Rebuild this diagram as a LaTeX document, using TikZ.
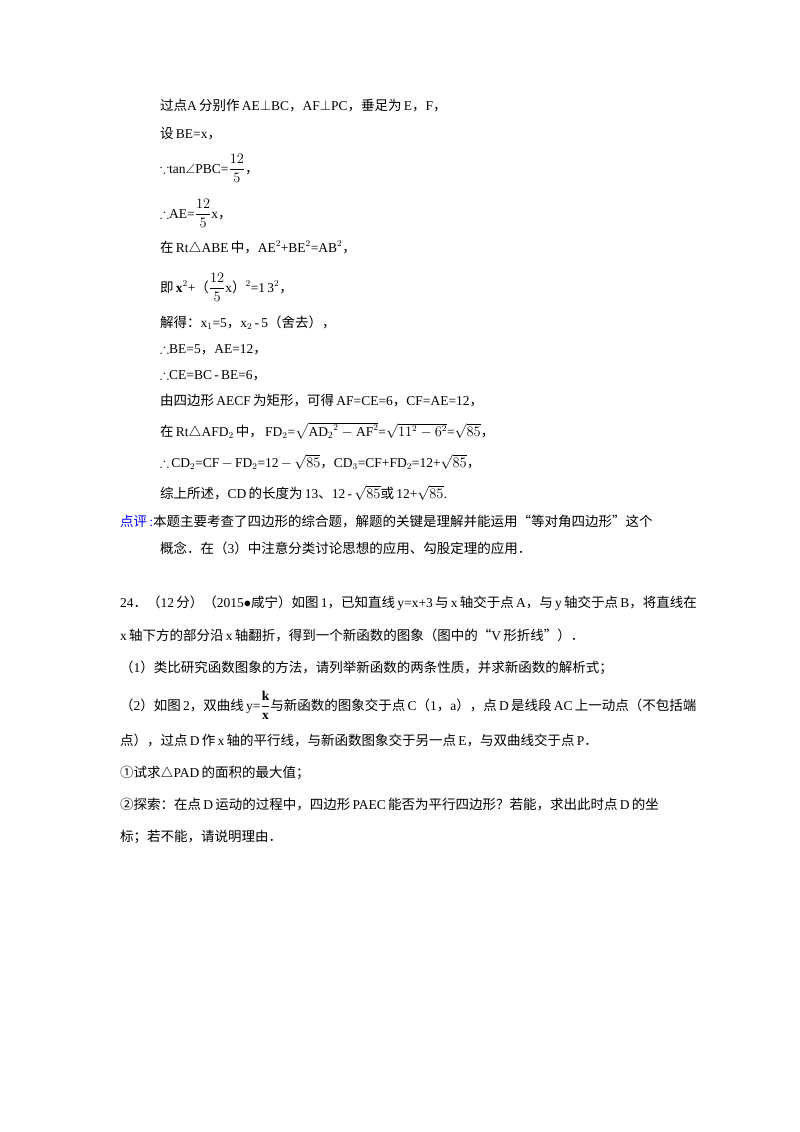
\documentclass[tikz,border=0pt]{standalone}
\usepackage{amsmath,amssymb}
\usepackage{fontspec}
\setmainfont{Liberation Serif}
\newfontfamily\cjk{Noto Sans CJK SC}
\newcommand{\zh}[1]{{\cjk #1}}
\begin{document}
\begin{tikzpicture}[x=1pt,y=-1pt,
  t/.style={anchor=base west,inner sep=0pt,font=\fontsize{13.5}{16}\selectfont}]
\useasboundingbox (0,0) rectangle (800,1132);
\fill[white] (0,0) rectangle (800,1132);
\node[t] (l1) at (160,110) {\zh{过点}A\,\zh{分别作}\,AE$\perp$BC\zh{，}AF$\perp$PC\zh{，垂足为}\,E\zh{，}F\zh{，}};
\node[t] (l2) at (160,138) {\zh{设}\,BE=x\zh{，}};
\node[t] (l3) at (160,173) {$\because$tan$\angle$PBC=$\dfrac{12}{5}$\zh{，}};
\node[t] (l4) at (160,218) {$\therefore$AE=$\dfrac{12}{5}$x\zh{，}};
\node[t] (l5) at (160,252) {\zh{在}\,Rt$\triangle$ABE\,\zh{中，}AE$^2$+BE$^2$=AB$^2$\zh{，}};
\node[t] (l6) at (160,292) {\zh{即}\,$\mathbf{x}^2$+\zh{（}$\dfrac{12}{5}$x\zh{）}$^2$=1\,3$^2$\zh{，}};
\node[t] (l7) at (160,327) {\zh{解得：}x$_1$=5\zh{，}x$_2$\,-\,5\zh{（舍去），}};
\node[t] (l8) at (160,353) {$\therefore$BE=5\zh{，}AE=12\zh{，}};
\node[t] (l9) at (160,379) {$\therefore$CE=BC\,-\,BE=6\zh{，}};
\node[t] (l10) at (160,405) {\zh{由四边形}\,AECF\,\zh{为矩形，可得}\,AF=CE=6\zh{，}CF=AE=12\zh{，}};
\node[t] (l11) at (160,436) {\zh{在}\,Rt$\triangle$AFD$_2$\,\zh{中，}\,FD$_2$=$\sqrt{\mathrm{AD_2}^2-\mathrm{AF}^2}$=$\sqrt{11^2-6^2}$=$\sqrt{85}$\zh{，}};
\node[t] (l12) at (160,467) {$\therefore$\,CD$_2$=CF\,$-$\,FD$_2$=12\,$-$\,$\sqrt{85}$\zh{，}CD$_3$=CF+FD$_2$=12+$\sqrt{85}$\zh{，}};
\node[t] (l13) at (160,498) {\zh{综上所述，}CD\,\zh{的长度为}\,13\zh{、}12\,-\,$\sqrt{85}$\zh{或}\,12+$\sqrt{85}$.};
\node[t] (l14) at (120,526) {\textcolor{blue}{\zh{点评}\,:}\zh{本题主要考查了四边形的综合题，解题的关键是理解并能运用“等对角四边形”这个}};
\node[t] (l15) at (160,553) {\zh{概念．在（}3\zh{）中注意分类讨论思想的应用、勾股定理的应用．}};
\node[t] (q1) at (120,607) {24\zh{．（}12\,\zh{分）（}2015$\bullet$\zh{咸宁）如图}\,1\zh{，已知直线}\,y=x+3\,\zh{与}\,x\,\zh{轴交于点}\,A\zh{，与}\,y\,\zh{轴交于点}\,B\zh{，将直线在}};
\node[t] (q2) at (120,640) {x\,\zh{轴下方的部分沿}\,x\,\zh{轴翻折，得到一个新函数的图象（图中的“}V\,\zh{形折线”）．}};
\node[t] (q3) at (120,672) {\zh{（}1\zh{）类比研究函数图象的方法，请列举新函数的两条性质，并求新函数的解析式；}};
\node[t] (q4) at (120,710) {\zh{（}2\zh{）如图}\,2\zh{，双曲线}\,y=$\dfrac{\mathbf{k}}{\mathbf{x}}$\zh{与新函数的图象交于点}\,C\zh{（}1\zh{，}a\zh{），点}\,D\,\zh{是线段}\,AC\,\zh{上一动点（不包括端}};
\node[t] (q5) at (120,745) {\zh{点），过点}\,D\,\zh{作}\,x\,\zh{轴的平行线，与新函数图象交于另一点}\,E\zh{，与双曲线交于点}\,P\zh{．}};
\node[t] (q6) at (120,777) {\zh{①试求}$\triangle$PAD\,\zh{的面积的最大值；}};
\node[t] (q7) at (120,809) {\zh{②探索：在点}\,D\,\zh{运动的过程中，四边形}\,PAEC\,\zh{能否为平行四边形？若能，求出此时点}\,D\,\zh{的坐}};
\node[t] (q8) at (120,841) {\zh{标；若不能，请说明理由．}};
\end{tikzpicture}
\end{document}
